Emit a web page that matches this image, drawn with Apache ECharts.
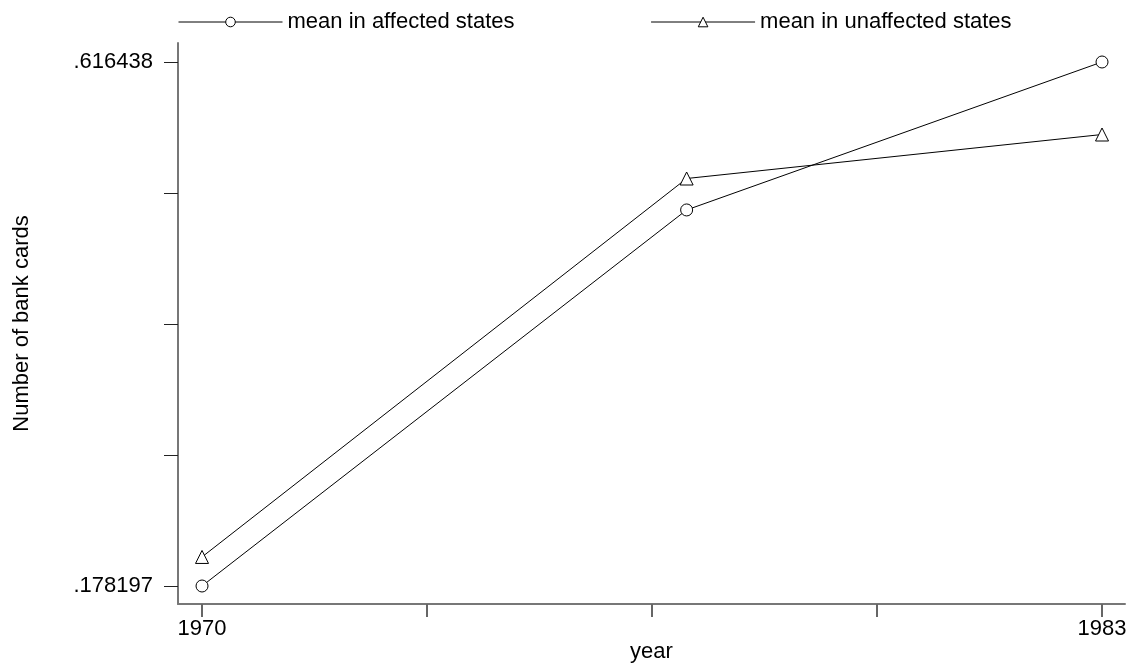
<!DOCTYPE html>
<html>
<head>
<meta charset="utf-8">
<script src="https://cdn.jsdelivr.net/npm/echarts@6/dist/echarts.min.js"></script>
<style>
  html, body { margin: 0; padding: 0; background: #fff; }
  #chart { width: 1129px; height: 664px; }
</style>
</head>
<body>
<div id="chart"></div>
<script>
// data
var years = [1970, 1977, 1983];
var affected = [0.178197, 0.4927, 0.616438];
var unaffected = [0.2025, 0.5190, 0.5558];
var xTicks = [1970, 1973.25, 1976.5, 1979.75, 1983];
var xLabels = [1970, 1983];
var yTicks = [0.178197, 0.287757, 0.397318, 0.506878, 0.616438];
var yLabels = [0.178197, 0.616438];

function pairs(xs, ys) {
  var out = [];
  for (let i = 0; i < xs.length; i++) {
    out.push([xs[i], ys[i]]);
  }
  return out;
}

var chart = echarts.init(document.getElementById('chart'), null, { renderer: 'canvas' });
var font = 'Liberation Sans, Arial, sans-serif';

var option = {
  animation: false,
  textStyle: { fontFamily: font },
  legend: {
    top: 6,
    left: 173,
    itemGap: 136,
    itemWidth: 104,
    itemHeight: 12,
    lineStyle: { width: 1 },
    itemStyle: { borderWidth: 1 },
    textStyle: { fontSize: 22, color: '#000', fontFamily: font },
    data: ['mean in affected states', 'mean in unaffected states']
  },
  grid: {
    left: 178,
    top: 43,
    right: 4,
    bottom: 60,
    containLabel: false,
    outerBoundsMode: 'none'
  },
  xAxis: {
    type: 'value',
    min: 1969.653,
    max: 1983.332,
    name: 'year',
    nameLocation: 'middle',
    nameGap: 37,
    nameMoveOverlap: false,
    nameTextStyle: { fontSize: 22, color: '#000' },
    axisLine: { lineStyle: { color: '#777', width: 2 } },
    axisTick: { customValues: xTicks, length: 13, lineStyle: { color: '#666', width: 2 } },
    axisLabel: {
      customValues: xLabels,
      fontSize: 22,
      color: '#000',
      margin: 14,
      formatter: function (v) { return String(v); }
    },
    splitLine: { show: false }
  },
  yAxis: {
    type: 'value',
    min: 0.163143,
    max: 0.632328,
    name: 'Number of bank cards',
    nameLocation: 'middle',
    nameGap: 145,
    nameMoveOverlap: false,
    nameTextStyle: { fontSize: 22, color: '#000' },
    axisLine: { show: true, lineStyle: { color: '#777', width: 2 } },
    axisTick: { show: true, customValues: yTicks, length: 14, lineStyle: { color: '#222', width: 1 } },
    axisLabel: {
      customValues: yLabels,
      fontSize: 22,
      color: '#000',
      margin: 25,
      formatter: function (v) { return '.' + v.toFixed(6).split('.')[1]; }
    },
    splitLine: { show: false }
  },
  series: [
    {
      name: 'mean in affected states',
      type: 'line',
      data: pairs(years, affected),
      symbol: 'circle',
      symbolSize: 12,
      lineStyle: { color: '#000', width: 1 },
      itemStyle: { color: '#fff', borderColor: '#000', borderWidth: 1 }
    },
    {
      name: 'mean in unaffected states',
      type: 'line',
      data: pairs(years, unaffected),
      symbol: 'triangle',
      symbolSize: 13,
      lineStyle: { color: '#000', width: 1 },
      itemStyle: { color: '#fff', borderColor: '#000', borderWidth: 1 }
    }
  ]
};

chart.setOption(option);
</script>
</body>
</html>
